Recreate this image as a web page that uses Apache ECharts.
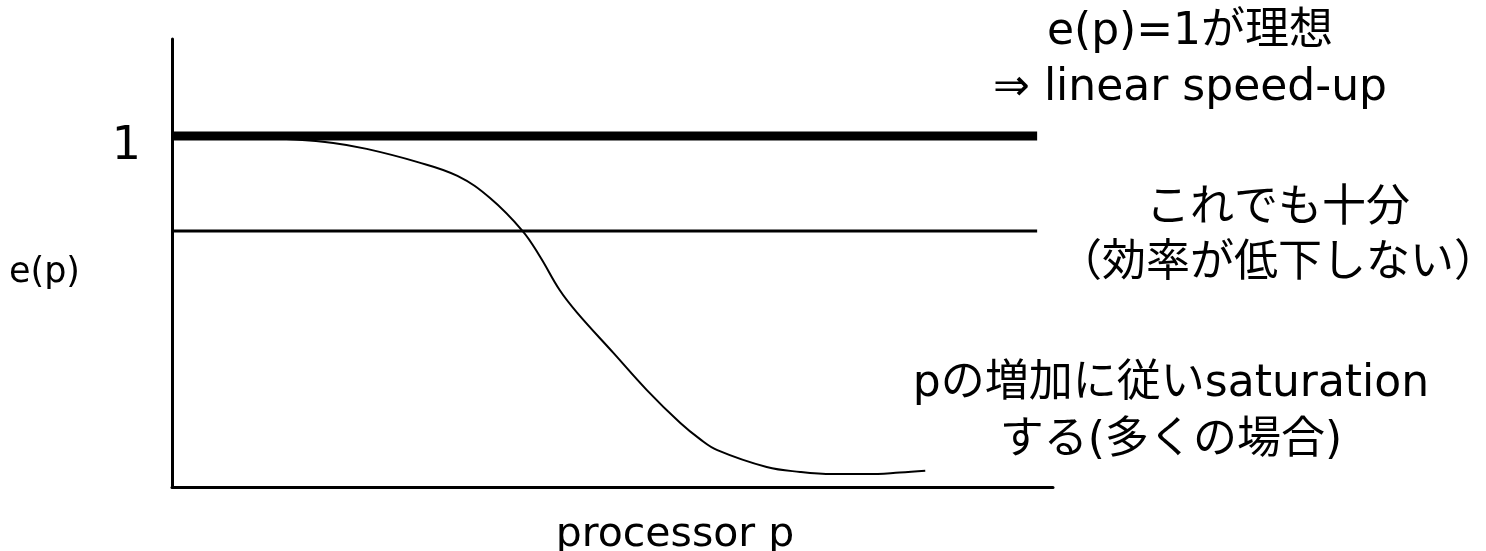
<!DOCTYPE html>
<html>
<head>
<meta charset="utf-8">
<script src="https://cdn.jsdelivr.net/npm/echarts@6/dist/echarts.min.js"></script>
<style>
  html, body { margin: 0; padding: 0; background: #ffffff; }
  #chart { width: 1486px; height: 551px; }
</style>
</head>
<body>
<div id="chart"></div>
<script>
// ---- data ----
const curveX = [0, 6.6, 13.0, 18.3, 22.1, 27.8, 32.4, 36.1, 39.8, 41.8, 44.0, 46.0, 50.1, 53.9, 57.7, 59.9, 61.9, 67.5, 71.3, 75.0, 78.9, 82.6, 85.5];
const curveY = [1.0, 0.999, 0.991, 0.980, 0.963, 0.926, 0.886, 0.823, 0.729, 0.655, 0.561, 0.496, 0.382, 0.276, 0.182, 0.137, 0.105, 0.057, 0.043, 0.037, 0.037, 0.041, 0.046];
const idealValue = 1;          // e(p) = 1 (thick line)
const sufficientValue = 0.729; // "これでも十分" level (thin line)
const refLineX = [0, 98.2];    // extent of the two horizontal reference lines
const yTickValues = [1];
const yTickLabels = ['1'];
const xAxisName = 'processor p';
const yAxisName = 'e(p)';
const noteIdeal = ['e(p)=1が理想', '⇒ linear speed-up'];
const noteEnough = ['これでも十分', '（効率が低下しない）'];
const noteSaturate = ['pの増加に従いsaturation', 'する(多くの場合)'];

// ---- chart ----
const chart = echarts.init(document.getElementById('chart'), null, { renderer: 'canvas' });
const LAT = '"DejaVu Sans", "Noto Sans CJK JP", sans-serif';

const option = {
  backgroundColor: '#ffffff',
  animation: false,
  grid: { left: 172, right: 433, top: 39, bottom: 64, containLabel: false, outerBoundsMode: 'none' },
  xAxis: {
    type: 'value', min: 0, max: 100,
    axisLine: { show: true, lineStyle: { color: '#000', width: 3 } },
    axisTick: { show: false }, axisLabel: { show: false }, splitLine: { show: false },
    name: xAxisName, nameLocation: 'middle', nameGap: 28,
    nameTextStyle: { color: '#000', fontSize: 41, fontFamily: LAT, padding: [0, 0, 0, 125] }
  },
  yAxis: {
    type: 'value', min: 0, max: 1.276, interval: 0.25,
    axisLine: { show: true, lineStyle: { color: '#000', width: 3 } },
    axisTick: { show: false }, splitLine: { show: false },
    axisLabel: {
      show: true, showMaxLabel: false, showMinLabel: false,
      margin: 31, color: '#000', fontSize: 46, fontFamily: LAT,
      verticalAlign: 'top', lineHeight: 23,
      formatter: function (v) {
        for (let i = 0; i < yTickValues.length; i++) {
          if (Math.abs(v - yTickValues[i]) < 1e-6) return yTickLabels[i];
        }
        return '';
      }
    },
    name: yAxisName, nameLocation: 'middle', nameRotate: 0, nameGap: 92,
    nameTextStyle: { color: '#000', fontSize: 35, fontFamily: LAT, verticalAlign: 'top', lineHeight: 20 }
  },
  series: [
    {
      type: 'line', name: 'ideal', symbol: 'none', silent: true,
      data: refLineX.map(x => [x, idealValue]),
      lineStyle: { color: '#000', width: 9 }
    },
    {
      type: 'line', name: 'sufficient', symbol: 'none', silent: true,
      data: refLineX.map(x => [x, sufficientValue]),
      lineStyle: { color: '#000', width: 3 }
    },
    {
      type: 'line', name: 'e(p)', symbol: 'none', silent: true,
      smooth: 0.4,
      data: curveX.map((x, i) => [x, curveY[i]]),
      lineStyle: { color: '#000', width: 2 }
    }
  ],
  graphic: [
    { type: 'text', x: 1190, y: 61, silent: true,
      style: { text: noteIdeal.join('\n'), fill: '#000', font: '44px ' + LAT,
               textAlign: 'center', textVerticalAlign: 'middle', lineHeight: 56 } },
    { type: 'text', x: 1278, y: 237, silent: true,
      style: { text: noteEnough.join('\n'), fill: '#000', font: '44px ' + LAT,
               textAlign: 'center', textVerticalAlign: 'middle', lineHeight: 55 } },
    { type: 'text', x: 1171, y: 413, silent: true,
      style: { text: noteSaturate.join('\n'), fill: '#000', font: '44px ' + LAT,
               textAlign: 'center', textVerticalAlign: 'middle', lineHeight: 57 } }
  ]
};
chart.setOption(option);
</script>
</body>
</html>
